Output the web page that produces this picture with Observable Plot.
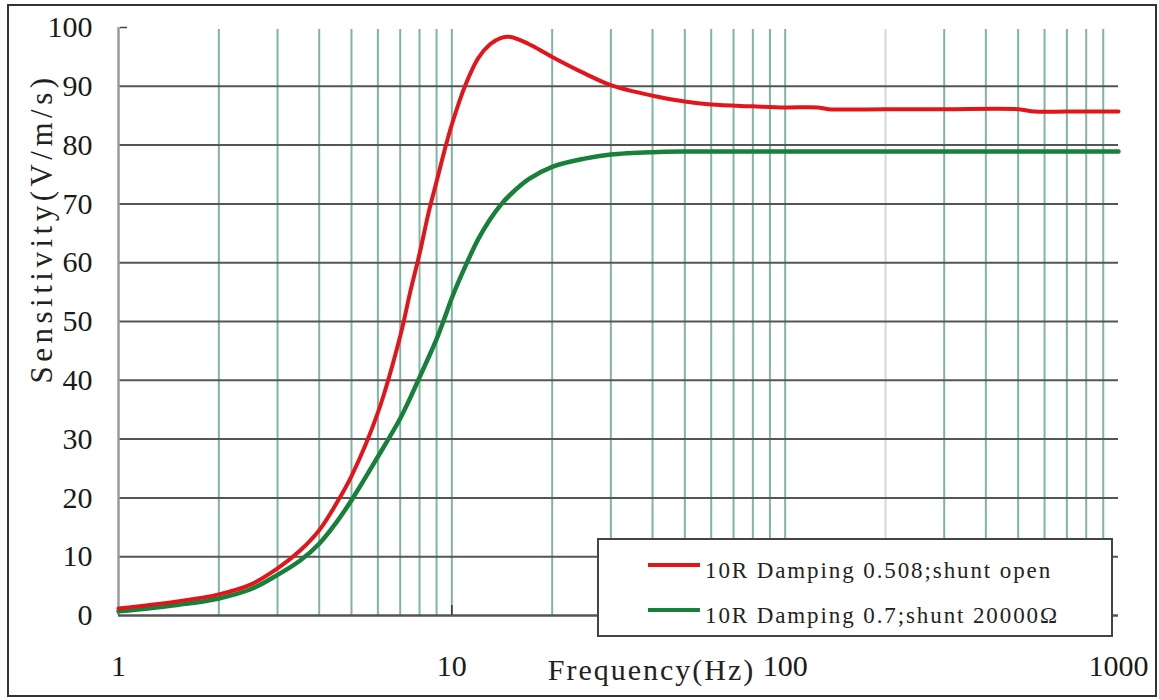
<!DOCTYPE html>
<html><head><meta charset="utf-8">
<script src="https://cdn.jsdelivr.net/npm/d3@7"></script>
<script src="https://cdn.jsdelivr.net/npm/@observablehq/plot@0.6"></script>
<style>
body{margin:0;background:#fff;}
#wrap{position:relative;width:1159px;height:700px;overflow:hidden;}
#frame{position:absolute;left:7px;top:4px;width:1146px;height:689px;border:2px solid #333;pointer-events:none;}
#legend{position:absolute;left:597px;top:538px;width:512px;height:95px;border:2px solid #444;background:#fff;}
#legend svg{display:block;}
</style>
</head><body>
<div id="wrap"><div id="chart"></div><div id="legend"></div><div id="frame"></div></div>
<script>
const freq = [1,1.5,2,2.5,3,3.5,4,4.5,5,6,7,7.5,8,8.5,9,9.5,10,11,12,13,14,15,17,20,25,30,40,50,60,80,100,125,135,200,300,500,560,700,1000];
const redSens = [1.2,2.4,3.6,5.3,8.0,11.0,14.5,19.0,23.7,34.5,47.5,55,61.5,68.3,73.8,79,83.5,90.3,94.8,97.1,98.2,98.4,97.2,95.0,92.2,90.2,88.4,87.4,86.9,86.6,86.4,86.4,86.1,86.1,86.1,86.1,85.7,85.7,85.7];
const greenSens = [0.7,1.8,2.9,4.5,6.9,9.3,12.2,15.8,19.6,27,33.5,37,40.5,43.8,47,50.5,54,59.5,64,67.3,69.8,71.6,74.2,76.3,77.7,78.4,78.8,78.9,78.9,78.9,78.9,78.9,78.9,78.9,78.9,78.9,78.9,78.9,78.9];
const seriesNames = ["10R Damping 0.508;shunt open", "10R Damping 0.7;shunt 20000\u03A9"];
const seriesColors = ["#e3151b", "#17803a"];
const yTicks = [0,10,20,30,40,50,60,70,80,90,100];
const xTicks = [1,10,100,1000];
const gridFreqs = [2,3,4,5,6,7,8,9,10,20,30,40,50,60,70,80,90,100,300,400,500,600,700,800,900];
const paleGridFreqs = [200];
const decadeMarks = [10,100];
const yLabel = "Sensitivity(V/m/s)";
const xLabel = "Frequency(Hz)";

const serif = "'Liberation Serif', 'Times New Roman', serif";

const chart = Plot.plot({
  width: 1159, height: 700,
  marginLeft: 118, marginRight: 41, marginTop: 27, marginBottom: 85,
  x: {type: "log", domain: [1, 1000]},
  y: {domain: [0, 100]},
  style: {background: "#fff", fontFamily: serif, color: "#1a1a1a", overflow: "visible"},
  marks: [
    Plot.ruleX(gridFreqs, {stroke: "#7fb5a3", strokeWidth: 2, insetTop: 2}),
    Plot.ruleX(paleGridFreqs, {stroke: "#d4d8d6", strokeWidth: 2, insetTop: 2}),
    Plot.ruleY(yTicks.filter(d => d > 0 && d < 100), {stroke: "#555", strokeWidth: 2}),
    Plot.ruleY([100], {stroke: "#444", strokeWidth: 1.5, insetLeft: 2, insetRight: 991}),
    Plot.ruleX(decadeMarks, {stroke: "#333", strokeWidth: 1.5, insetTop: 578}),
    Plot.ruleX([1], {stroke: "#9a9a9a", strokeWidth: 2.5}),
    Plot.ruleY([0], {stroke: "#555", strokeWidth: 2.5}),
    Plot.axisY(yTicks, {tickSize: 0, tickPadding: 26, fontSize: 30, label: null}),
    Plot.axisX(xTicks, {tickSize: 0, tickPadding: 39, fontSize: 30, label: null, tickFormat: d => String(d)}),
    Plot.line(freq, {x: d => d, y: greenSens, stroke: seriesColors[1], strokeWidth: 4.5, curve: "catmull-rom"}),
    Plot.line(freq, {x: d => d, y: redSens, stroke: seriesColors[0], strokeWidth: 4, curve: "catmull-rom"}),
    Plot.text([yLabel], {text: d => d, frameAnchor: "left", rotate: -90, dx: -76, dy: 62, fontSize: 31, fontFamily: serif, fill: "#222"}),
    Plot.text([xLabel], {text: d => d, frameAnchor: "bottom", dx: 33, dy: 64, fontSize: 30, fontFamily: serif, fill: "#222"})
  ]
});
document.getElementById("chart").appendChild(chart);
const textGroups = chart.querySelectorAll('g[aria-label="text"]');
if (textGroups[0]) textGroups[0].setAttribute("letter-spacing", "4.5");
if (textGroups[1]) textGroups[1].setAttribute("letter-spacing", "2");

// legend
const ns = "http://www.w3.org/2000/svg";
const lsvg = document.createElementNS(ns, "svg");
lsvg.setAttribute("width", 512); lsvg.setAttribute("height", 95);
const rowsY = [25, 70];
seriesNames.forEach((name, i) => {
  const ln = document.createElementNS(ns, "line");
  ln.setAttribute("x1", 49); ln.setAttribute("x2", 101);
  ln.setAttribute("y1", rowsY[i]); ln.setAttribute("y2", rowsY[i]);
  ln.setAttribute("stroke", seriesColors[i]); ln.setAttribute("stroke-width", 4);
  lsvg.appendChild(ln);
  const t = document.createElementNS(ns, "text");
  t.setAttribute("x", 106); t.setAttribute("y", rowsY[i] + 13);
  t.setAttribute("font-family", serif);
  t.setAttribute("font-size", "23");
  t.setAttribute("letter-spacing", "1.9");
  t.setAttribute("fill", "#222");
  t.textContent = name;
  lsvg.appendChild(t);
});
document.getElementById("legend").appendChild(lsvg);
</script>
</body></html>
